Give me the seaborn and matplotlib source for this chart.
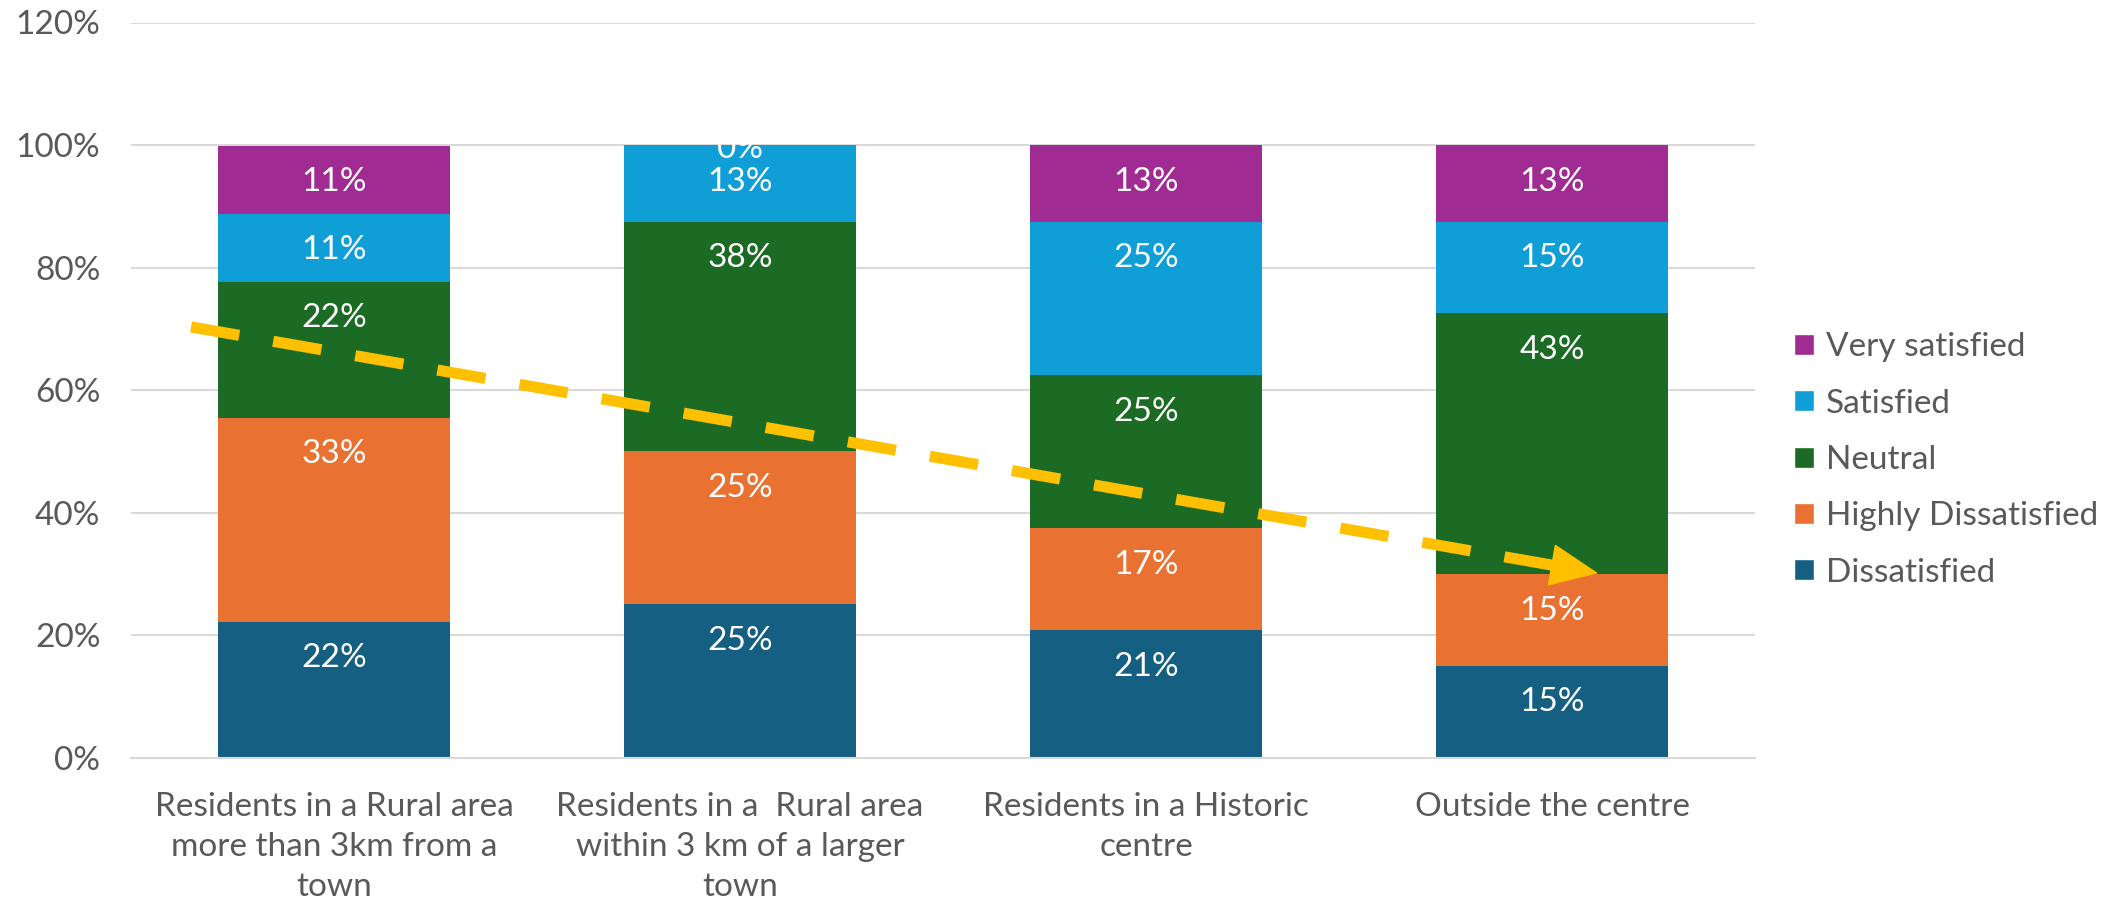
import numpy as np
import seaborn as sns
from matplotlib import pyplot as plt
from matplotlib.patches import Patch

# data (percent of respondents)
categories = ['Residents in a Rural area\nmore than 3km from a\ntown',
              'Residents in a  Rural area\nwithin 3 km of a larger\ntown',
              'Residents in a Historic\ncentre',
              'Outside the centre']
levels = ['Dissatisfied', 'Highly Dissatisfied', 'Neutral', 'Satisfied', 'Very satisfied']
dissatisfied = [22.2, 25.0, 20.8, 15.0]
highly_dissatisfied = [33.3, 25.0, 16.7, 15.0]
neutral = [22.2, 37.5, 25.0, 42.5]
satisfied = [11.1, 12.5, 25.0, 15.0]
very_satisfied = [11.1, 0.0, 12.5, 12.5]
colors = ['#156082', '#E97132', '#1B6B24', '#0F9ED5', '#A02B93']
yticks = [0, 20, 40, 60, 80, 100, 120]

# trend arrow drawn over the bars (category units, percent)
arrow_start = (-0.352, 70.3)
arrow_end = (3.113, 30.1)

GREY = '#595959'


def set_env():
    sns.set_theme(style='white')
    plt.rcParams['font.family'] = ['Lato', 'DejaVu Sans']


def pct(v):
    return '{}%'.format(int(np.floor(v + 0.5)))


set_env()
fig = plt.figure(figsize=(21.23, 9), dpi=100)
ax = fig.add_axes([0.0617, 0.1583, 0.765, 0.8167])

series = [dissatisfied, highly_dissatisfied, neutral, satisfied, very_satisfied]
cum = np.cumsum(np.array(series), axis=0)

# stacked bars: draw the tallest cumulative layer first, then overlay the lower ones
for i in reversed(range(len(levels))):
    sns.barplot(x=categories, y=cum[i], color=colors[i], saturation=1, width=0.57,
                linewidth=0, ax=ax, zorder=2)

# segment labels, "inside end" like the original; empty segments get centred on the edge
for j in range(len(categories)):
    for i in range(len(levels)):
        val = series[i][j]
        off = -33 if val > 0 else -9
        ax.annotate(pct(val), xy=(j, cum[i][j]), xytext=(0, off), textcoords='offset points',
                    ha='center', va='baseline', color='white', fontsize=24, zorder=4)

# dashed trend line with arrow head
frac = 0.975
mid = (arrow_start[0] + frac * (arrow_end[0] - arrow_start[0]),
       arrow_start[1] + frac * (arrow_end[1] - arrow_start[1]))
ax.plot([arrow_start[0], mid[0]], [arrow_start[1], mid[1]], color='#FFC000', lw=8,
        dashes=(4.4, 3.1), solid_capstyle='butt', zorder=5)
ax.annotate('', xy=arrow_end, xytext=mid,
            arrowprops=dict(arrowstyle='-|>,head_length=2.7,head_width=1.2',
                            color='#FFC000', lw=1, shrinkA=0, shrinkB=0), zorder=5)

ax.set_ylim(0, 120)
ax.set_xlim(-0.5, 3.5)
ax.set_yticks(yticks)
ax.set_yticklabels([pct(t) for t in yticks])
ax.yaxis.grid(True, color='#D9D9D9', lw=1.5)
ax.set_axisbelow(True)
for s in ['top', 'right', 'left']:
    ax.spines[s].set_visible(False)
ax.spines['bottom'].set_color('#D9D9D9')
ax.spines['bottom'].set_linewidth(1.5)
ax.tick_params(axis='y', length=0, pad=22, labelsize=24, labelcolor=GREY)
ax.tick_params(axis='x', length=0, pad=25, labelsize=24, labelcolor=GREY)
for lab in ax.get_xticklabels():
    lab.set_linespacing(1.42)
ax.set_xlabel('')
ax.set_ylabel('')

handles = [Patch(facecolor=colors[i], label=levels[i]) for i in reversed(range(len(levels)))]
fig.legend(handles=handles, loc='center left', bbox_to_anchor=(0.845, 0.489),
           frameon=False, fontsize=24, labelcolor=GREY, handlelength=0.6,
           handleheight=0.6, handletextpad=0.35, labelspacing=0.79, borderpad=0,
           borderaxespad=0)

plt.savefig('out.png', dpi=100)
